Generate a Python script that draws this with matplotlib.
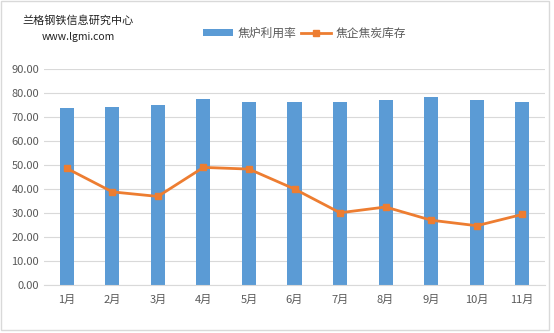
import numpy as np
import matplotlib.pyplot as plt
from matplotlib.patches import Rectangle

plt.rcParams['font.family'] = ['Noto Sans CJK SC', 'DejaVu Sans']

months = ['1月', '2月', '3月', '4月', '5月', '6月', '7月', '8月', '9月', '10月', '11月']
utilization = [73.6, 74.0, 74.9, 77.5, 76.1, 76.4, 76.1, 77.2, 78.5, 77.2, 76.4]
coke_stock = [48.6, 38.8, 36.9, 49.0, 48.3, 40.0, 30.1, 32.5, 27.0, 24.7, 29.4]

fig = plt.figure(figsize=(5.54, 3.33), dpi=100)
ax = fig.add_axes([44 / 554, 1 - 285 / 333, (545 - 44) / 554, (285 - 69) / 333])

x = np.arange(len(months))
bars = ax.bar(x, utilization, width=0.31, color='#5B9BD5', label='焦炉利用率', zorder=2)
line, = ax.plot(x, coke_stock, color='#ED7D31', lw=2, marker='s', ms=5,
                label='焦企焦炭库存', zorder=3)

ax.set_xlim(-0.5, len(months) - 0.5)
ax.set_ylim(0, 90)
ax.set_yticks(np.arange(0, 91, 10))
ax.set_yticklabels([f'{v:.2f}' for v in np.arange(0, 91, 10)])
ax.set_xticks(x)
ax.set_xticklabels(months)
ax.tick_params(axis='both', length=0, colors='#595959', labelsize=8)
ax.tick_params(axis='x', pad=7)
ax.grid(axis='y', color='#D9D9D9', lw=0.8, zorder=0)
for side in ['top', 'right', 'left']:
    ax.spines[side].set_visible(False)
ax.spines['bottom'].set_color('#D9D9D9')

fig.legend([bars, line], ['焦炉利用率', '焦企焦炭库存'], loc='center',
           bbox_to_anchor=(0.55, 0.90), ncol=2, frameon=False,
           fontsize=8.5, labelcolor='#595959', handlelength=2.5, handleheight=0.6,
           columnspacing=0.4, handletextpad=0.4)

fig.text(0.141, 0.94, '兰格钢铁信息研究中心', ha='center', va='center',
         fontsize=8, color='#222222')
fig.text(0.141, 0.889, 'www.lgmi.com', ha='center', va='center',
         fontsize=7.5, color='#222222')

fig.patches.append(Rectangle((1 / 554, 3 / 333), 548 / 554, 329 / 333,
                             transform=fig.transFigure, fill=False,
                             edgecolor='#D9D9D9', lw=1))

fig.savefig('out.png', dpi=100)
